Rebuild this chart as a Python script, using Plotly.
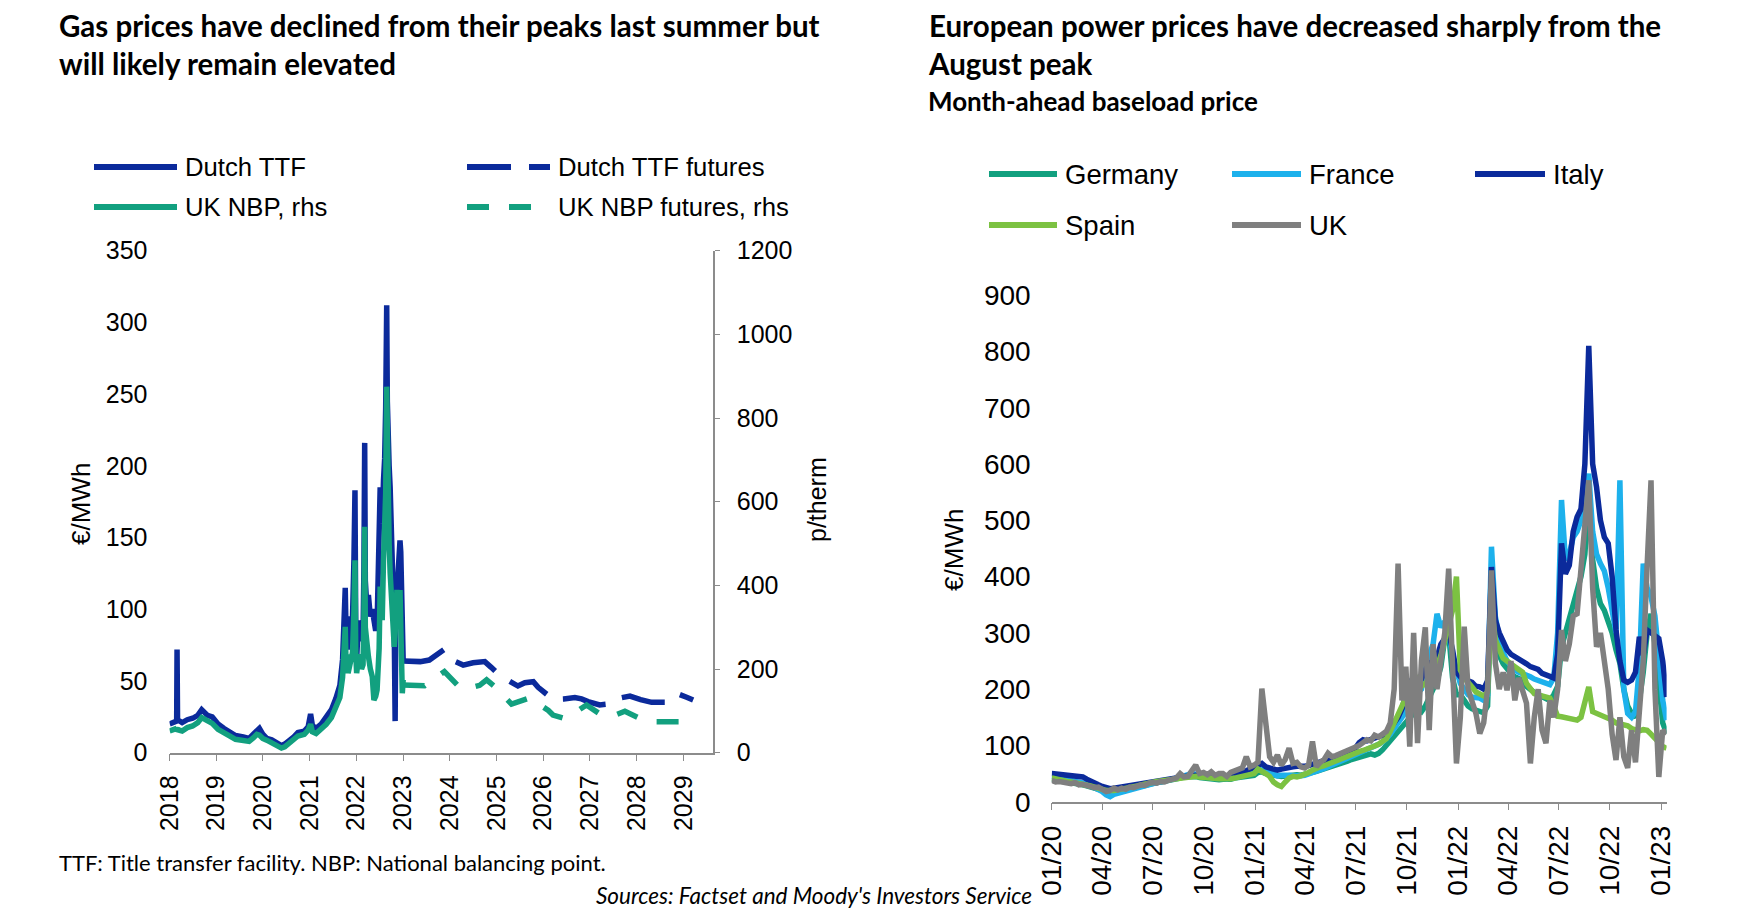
import plotly.graph_objects as go
import pandas as pd

# --- DATA: gas (left panel) ---
gas_dates = [
    "2018-01-02", "2018-02-01", "2018-02-26", "2018-03-01", "2018-03-05", "2018-04-10",
    "2018-05-20", "2018-07-01", "2018-08-10", "2018-09-10", "2018-10-01", "2018-10-25",
    "2018-12-01", "2019-01-15", "2019-03-01", "2019-04-15", "2019-06-01", "2019-08-01",
    "2019-09-15", "2019-10-20", "2019-11-15", "2019-12-05", "2019-12-31", "2020-01-31",
    "2020-03-10", "2020-04-10", "2020-05-25", "2020-06-20", "2020-07-25", "2020-08-30",
    "2020-10-01", "2020-11-20", "2020-12-20", "2021-01-08", "2021-01-22", "2021-02-20",
    "2021-04-01", "2021-05-10", "2021-06-20", "2021-07-25", "2021-08-25", "2021-09-15",
    "2021-09-28", "2021-10-06", "2021-10-12", "2021-10-20", "2021-10-28", "2021-11-10",
    "2021-11-22", "2021-12-02", "2021-12-13", "2021-12-21", "2021-12-27", "2022-01-03",
    "2022-01-15", "2022-01-28", "2022-02-10", "2022-02-22", "2022-03-01", "2022-03-07",
    "2022-03-12", "2022-03-22", "2022-04-05", "2022-04-20", "2022-05-05", "2022-05-18",
    "2022-06-01", "2022-06-12", "2022-06-20", "2022-06-28", "2022-07-06", "2022-07-14",
    "2022-07-22", "2022-08-01", "2022-08-10", "2022-08-18", "2022-08-26", "2022-08-31",
    "2022-09-06", "2022-09-14", "2022-09-22", "2022-09-30", "2022-10-08", "2022-10-16",
    "2022-10-24", "2022-10-31", "2022-11-06", "2022-11-14", "2022-11-24", "2022-12-02",
    "2022-12-08", "2022-12-14", "2022-12-20", "2022-12-26", "2023-01-02",
]
# Dutch TTF, EUR/MWh
ttf = [
    20, 21, 22, 72, 23, 21, 23, 24, 26, 30, 28, 26,
    25, 20, 17, 15, 12, 11, 10, 13, 16, 17, 13, 10,
    9, 7, 5, 6, 8, 11, 14, 15, 18, 27, 19, 17,
    20, 25, 30, 38, 47, 65, 90, 115, 85, 95, 72, 80,
    90, 95, 135, 183, 90, 65, 88, 92, 78, 80, 130, 216,
    120, 105, 110, 95, 100, 88, 85, 90, 125, 144, 185, 165,
    160, 190, 205, 240, 312, 245, 213, 200, 185, 167, 140, 110,
    85, 22, 100, 115, 125, 135, 148, 140, 110, 80, 64,
]
# UK NBP, p/therm (rhs)
nbp = [
    52, 54, 58, 60, 55, 52, 60, 64, 72, 84, 80, 74,
    70, 56, 46, 40, 32, 28, 27, 36, 44, 42, 34, 30,
    24, 18, 11, 14, 22, 32, 40, 44, 54, 68, 50, 46,
    56, 68, 84, 108, 132, 180, 240, 301, 215, 235, 190, 205,
    230, 240, 340, 460, 240, 190, 220, 235, 200, 210, 330, 540,
    300, 250, 230, 200, 182, 126, 135, 150, 200, 250, 397, 330,
    317, 460, 520, 620, 875, 660, 612, 500, 430, 373, 330, 280,
    253, 285, 320, 389, 360, 345, 389, 333, 250, 142, 174,
]

ttf_fut_dates = [
    "2023-01-02", "2023-03-01", "2023-05-15", "2023-07-25", "2023-10-01", "2023-11-20",
    "2024-02-01", "2024-04-15", "2024-07-01", "2024-10-01", "2024-11-20", "2025-01-01",
    "2025-02-05", "2025-04-10", "2025-06-17", "2025-08-10", "2025-10-15", "2025-11-22",
    "2026-01-15", "2026-03-18", "2026-06-10", "2026-09-05", "2026-10-27", "2026-12-17",
    "2027-03-18", "2027-06-05", "2027-08-10", "2027-11-10", "2028-02-01", "2028-04-27",
    "2028-08-22", "2028-11-20", "2029-01-26", "2029-03-18",
]
ttf_fut = [
    64, 63.5, 63.5, 64.6, 69.3, 72.1,
    64, 61.1, 62.7, 63.5, 59.5, 56.5,
    53, 50, 46.5, 48.8, 49.5, 45.6,
    41.4, 37.2, 37.5, 38.5, 37.5, 35.6,
    33.3, 34, 37.9, 39.5, 37, 35.1,
    35.1, 41, 38.7, 36.8,
]

nbp_fut_dates = [
    "2023-01-02", "2023-06-18", "2023-09-05", "2023-11-20", "2024-03-18", "2024-06-05",
    "2024-08-22", "2024-10-15", "2024-12-17", "2025-02-21", "2025-04-28", "2025-09-17",
    "2025-12-05", "2026-02-10", "2026-03-18", "2026-06-17", "2026-09-17", "2026-12-05",
    "2027-04-01", "2027-07-01", "2027-10-01", "2028-02-21", "2028-05-22", "2028-08-22",
    "2029-01-26",
]
nbp_fut = [
    162, 160, 178, 194, 156, 155,
    161, 174, 158, 138, 116, 131,
    115, 101, 90, 82, 98, 114,
    90, 88, 99, 78, 74, 75,
    74,
]

gas_years = [str(y) for y in range(2018, 2030)]

# --- DATA: power (right panel), weekly from 2020-01-01 ---
germany = [
    40, 39, 38, 37, 36, 35, 33, 32, 30, 28, 26, 24, 22, 20, 18, 16, 17, 18,
    19, 21, 22, 24, 26, 28, 30, 32, 33, 34, 35, 36, 37, 38, 40, 42, 44,
    45, 46, 45, 43, 42, 40, 39, 38, 39, 40, 39, 40, 42, 43, 44, 45, 46, 47,
    52, 53, 50, 48, 47, 46, 45, 46, 46, 47, 48, 47, 48, 50, 52, 54, 56,
    58, 60, 62, 64, 66, 69, 72, 75, 77, 79, 81, 83, 85, 83, 86, 92, 100,
    110, 118, 127, 133, 140, 150, 157, 165, 160, 170, 185, 200, 215,
    240, 290, 300, 220, 190,
    190, 180, 170, 165, 163, 160, 158, 170, 388, 300, 260, 245, 235,
    228, 222, 220, 216, 205, 198, 194, 190, 186, 182, 180, 190, 205,
    275, 300, 330, 350, 376, 400, 440, 541, 430, 380, 352, 340, 320,
    300, 270, 246, 200, 170, 157, 150, 180, 230, 300, 334, 280, 200,
    140, 121,
]
france = [
    45, 44, 43, 42, 40, 38, 36, 35, 34, 32, 28, 25, 22, 18, 12, 9, 13, 15,
    16, 18, 20, 22, 25, 28, 30, 31, 33, 34, 35, 36, 37, 40, 42, 45, 46,
    48, 50, 49, 47, 45, 44, 42, 43, 44, 42, 41, 43, 45, 46, 48, 50, 52, 54,
    57, 58, 54, 51, 48, 46, 47, 48, 47, 46, 45, 46, 47, 49, 51, 53, 56,
    59, 62, 65, 68, 70, 73, 76, 80, 83, 86, 88, 91, 94, 98, 102, 106, 112,
    120, 130, 140, 150, 160, 180, 186, 195, 200, 240, 260, 280, 334,
    310, 320, 300, 260, 230,
    210, 200, 190, 186, 186, 184, 180, 190, 453, 329, 290, 265, 250,
    240, 234, 230, 228, 225, 222, 218, 215, 212, 210, 208, 220, 300,
    536, 430, 440, 470, 480, 500, 540, 583, 480, 440, 423, 410, 380,
    340, 300, 571, 200, 157, 150, 160, 240, 423, 380, 364, 330, 260,
    180, 145,
]
italy = [
    50, 49, 48, 48, 47, 47, 46, 45, 44, 40, 36, 32, 30, 27, 25, 23, 24, 25,
    26, 28, 29, 30, 31, 32, 33, 34, 35, 36, 37, 38, 40, 41, 42, 44, 45,
    46, 48, 47, 46, 45, 46, 44, 45, 46, 44, 43, 44, 46, 50, 52, 55, 58, 60,
    65, 68, 62, 60, 57, 56, 58, 60, 61, 62, 63, 62, 63, 64, 66, 68, 70,
    72, 74, 76, 78, 80, 84, 88, 92, 95, 105, 110, 108, 110, 112, 115, 118, 122,
    130, 140, 150, 165, 190, 210, 222, 212, 218, 235, 245, 250, 256,
    280, 290, 300, 270, 230,
    222, 225, 215, 212, 205, 204, 200, 215, 417, 323, 300, 285, 270,
    262, 258, 255, 250, 245, 240, 238, 235, 228, 225, 222, 220, 262,
    459, 405, 420, 480, 506, 520, 600, 810, 600, 559, 500, 470, 459,
    400, 305, 250, 216, 212, 216, 230, 293, 260, 305, 300, 295, 290,
    250, 186,
]
spain = [
    42, 40, 38, 37, 36, 35, 34, 33, 32, 30, 28, 26, 25, 22, 20, 19, 20, 21,
    22, 23, 24, 25, 28, 30, 32, 34, 35, 36, 37, 38, 39, 40, 41, 42, 44,
    45, 46, 45, 44, 43, 42, 41, 40, 41, 41, 40, 41, 42, 44, 45, 46, 48, 50,
    58, 55, 50, 45, 35, 30, 27, 35, 42, 45, 44, 46, 48, 52, 56, 60, 62,
    64, 67, 70, 72, 75, 78, 82, 85, 87, 89, 91, 93, 96, 99, 102, 106, 112,
    125, 140, 155, 170, 185, 200, 215, 220, 205, 210, 220, 230, 240,
    260, 290, 320, 340, 400,
    234, 220, 210, 204, 195, 190, 188, 195, 346, 287, 270, 255, 250,
    246, 240, 235, 230, 210, 200, 192, 190, 188, 186, 184, 170, 152,
    151, 149, 147, 146, 145, 150, 180, 204, 160, 157, 155, 152, 150,
    145, 140, 139, 137, 135, 130, 127, 126, 128, 127, 120, 112, 104,
    98, 95,
]
uk = [
    38, 35, 36, 34, 33, 32, 34, 30, 31, 29, 27, 25, 26, 22, 18, 20, 24, 21,
    24, 22, 26, 25, 28, 30, 29, 33, 34, 33, 36, 35, 38, 40, 42, 50, 44,
    45, 55, 65, 50, 52, 48, 53, 47, 50, 50, 45, 52, 55, 58, 60, 80, 62, 65,
    70, 201, 148, 80, 70, 83, 65, 75, 95, 68, 70, 62, 60, 65, 107, 62, 70,
    75, 86, 80, 82, 85, 88, 90, 92, 95, 100, 105, 110, 108, 118, 115, 120, 125,
    140, 200, 423, 180, 240, 98, 300, 104, 250, 310, 127, 280, 200,
    250, 300, 414, 250, 68,
    150, 311, 200, 180, 157, 121, 140, 200, 411, 246, 200, 230, 198,
    250, 180, 220, 198, 175, 68, 150, 200, 127, 104, 180, 150, 200,
    305, 250, 280, 330, 334, 420, 500, 571, 380, 275, 300, 250, 200,
    120, 74, 150, 80, 60, 127, 70, 150, 250, 420, 571, 200, 44,
    127, 120,
]
power_dates = pd.date_range("2020-01-01", periods=len(germany), freq="7D")

# --- STYLE ---
W, H = 1739, 914
DARK_BLUE = "#0B2A9B"
TEAL = "#12A07F"
LIGHT_BLUE = "#1DB1EC"
LIME = "#7CC242"
GREY = "#7F7F7F"
AXIS_GREY = "#8C8C8C"
TXT = "Lato"
NUM = "Liberation Sans, Arial, sans-serif"
LW = 5.5

TTF_DASH = "44px,18px"
NBP_DASH = "22px,20px"


def fx(p):
    return p / W


def fy(p):
    return 1 - p / H


fig = go.Figure()

# left panel
fig.add_trace(go.Scatter(x=gas_dates, y=ttf, mode="lines", name="Dutch TTF",
                         line=dict(color=DARK_BLUE, width=LW)))
fig.add_trace(go.Scatter(x=ttf_fut_dates, y=ttf_fut, mode="lines", name="Dutch TTF futures",
                         line=dict(color=DARK_BLUE, width=LW, dash=TTF_DASH)))
fig.add_trace(go.Scatter(x=gas_dates, y=nbp, mode="lines", name="UK NBP, rhs", yaxis="y2",
                         line=dict(color=TEAL, width=LW)))
fig.add_trace(go.Scatter(x=nbp_fut_dates, y=nbp_fut, mode="lines", name="UK NBP futures, rhs",
                         yaxis="y2", line=dict(color=TEAL, width=LW, dash=NBP_DASH)))

# right panel
power = [("Germany", germany, TEAL), ("France", france, LIGHT_BLUE), ("Italy", italy, DARK_BLUE),
         ("Spain", spain, LIME), ("UK", uk, GREY)]
for name, vals, col in power:
    fig.add_trace(go.Scatter(x=power_dates, y=vals, mode="lines", name=name,
                             xaxis="x2", yaxis="y3", line=dict(color=col, width=LW)))

tickfont = dict(family=NUM, size=25, color="black")
tickfont_r = dict(family=NUM, size=28, color="black")

fig.update_layout(
    width=W, height=H,
    margin=dict(l=0, r=0, t=0, b=0),
    plot_bgcolor="white", paper_bgcolor="white",
    showlegend=False,
    xaxis=dict(domain=[fx(169.5), fx(713)], anchor="y", type="date",
               range=["2018-01-01", "2029-08-20"],
               tickvals=[f"{y}-01-01" for y in gas_years], ticktext=gas_years,
               tickangle=-90, tickfont=tickfont, ticks="outside", ticklen=7,
               tickcolor=AXIS_GREY, showline=True, linecolor=AXIS_GREY, linewidth=1.5,
               showgrid=False, zeroline=False, ticklabelstandoff=4, automargin=False),
    yaxis=dict(domain=[fy(752.7), fy(250.7)], anchor="x", range=[0, 350], dtick=50,
               tickfont=tickfont, showline=False, showgrid=False, zeroline=False,
               ticklabelstandoff=21, automargin=False),
    yaxis2=dict(overlaying="y", anchor="x", side="right", range=[0, 1200], dtick=200,
                tickfont=tickfont, showline=True, linecolor=AXIS_GREY, linewidth=1.5,
                ticks="outside", ticklen=5, tickcolor=AXIS_GREY,
                showgrid=False, zeroline=False, ticklabelstandoff=12, automargin=False),
    xaxis2=dict(domain=[fx(1051.7), fx(1666.6)], anchor="y3", type="date",
                range=["2020-01-01", "2023-01-11"], tick0="2020-01-01", dtick="M3",
                tickformat="%m/%y", tickangle=-90, tickfont=tickfont_r, ticks="outside",
                ticklen=7, tickcolor=AXIS_GREY, showline=True, linecolor=AXIS_GREY,
                linewidth=1.5, showgrid=False, zeroline=False, ticklabelstandoff=4,
                automargin=False),
    yaxis3=dict(domain=[fy(801.7), fy(295.2)], anchor="x2", range=[0, 900], dtick=100,
                tickfont=tickfont_r, showline=False, showgrid=False, zeroline=False,
                ticklabelstandoff=20, automargin=False),
)


def note(text, x, y, size, xanchor="left", yanchor="middle", angle=0, family=TXT):
    fig.add_annotation(text=text, x=fx(x), y=fy(y), xref="paper", yref="paper",
                       xanchor=xanchor, yanchor=yanchor, textangle=angle, showarrow=False,
                       align="left", font=dict(family=family, size=size, color="black"))


def legend_item(x0, x1, y, color, dash, label, size):
    fig.add_shape(type="line", xref="paper", yref="paper", x0=fx(x0), x1=fx(x1),
                  y0=fy(y), y1=fy(y), line=dict(color=color, width=6, dash=dash))
    note(label, x1 + 6, y, size, family=NUM)


# titles
note("<b>Gas prices have declined from their peaks last summer but<br>will likely remain elevated</b>",
     57, 6, 29.5, yanchor="top")
note("<b>European power prices have decreased sharply from the<br>August peak</b>",
     926, 6, 29.5, yanchor="top")
note("<b>Month-ahead baseload price</b>", 926, 101, 26)

# legends
legend_item(94, 177, 167, DARK_BLUE, "solid", "Dutch TTF", 25.7)
legend_item(467, 550, 167, DARK_BLUE, TTF_DASH, "Dutch TTF futures", 25.7)
legend_item(94, 177, 207, TEAL, "solid", "UK NBP, rhs", 25.7)
legend_item(467, 550, 207, TEAL, NBP_DASH, "UK NBP futures, rhs", 25.7)

legend_item(989, 1057, 174, TEAL, "solid", "Germany", 27.5)
legend_item(1232, 1301, 174, LIGHT_BLUE, "solid", "France", 27.5)
legend_item(1475, 1545, 174, DARK_BLUE, "solid", "Italy", 27.5)
legend_item(989, 1057, 225, LIME, "solid", "Spain", 27.5)
legend_item(1232, 1301, 225, GREY, "solid", "UK", 27.5)

# axis titles
note("€/MWh", 81, 504, 26, xanchor="center", angle=-90, family=NUM)
note("p/therm", 817, 500, 25, xanchor="center", angle=-90, family=NUM)
note("€/MWh", 954, 550, 26, xanchor="center", angle=-90, family=NUM)

# footnotes
note("TTF: Title transfer facility. NBP: National balancing point.", 57, 862, 22)
note("<i>Sources: Factset and Moody's Investors Service</i>", 814, 895, 22.5, xanchor="center")

fig.write_html("out.html", config={"displayModeBar": False},
               post_script="document.body.style.margin='0';")
